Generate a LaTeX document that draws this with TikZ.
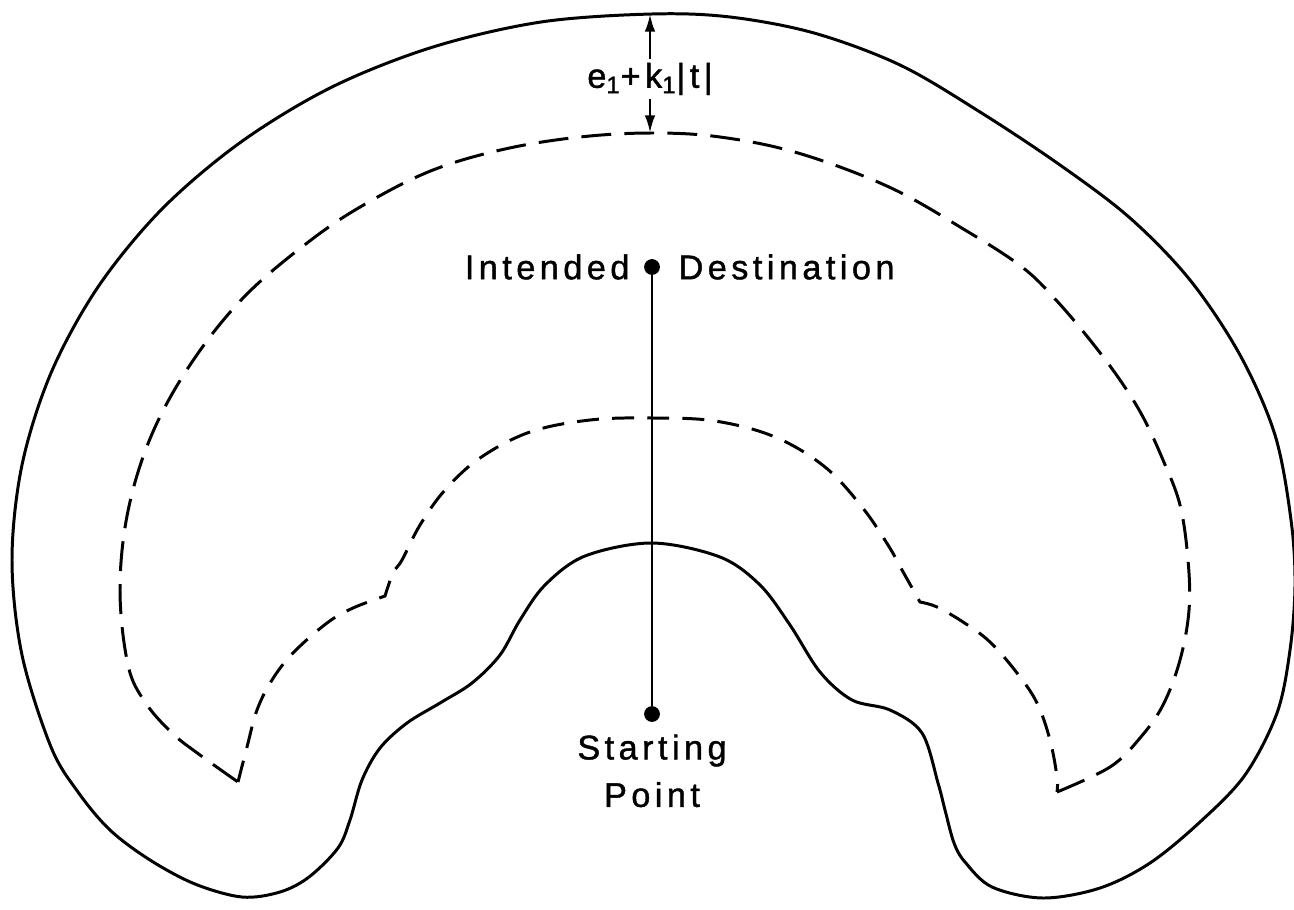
\documentclass[tikz,border=0pt]{standalone}
\usepackage{fontspec}
\setmainfont{Liberation Sans}[LetterSpace=13, FakeBold=1.2]
\usetikzlibrary{arrows.meta,positioning}

\begin{document}
\begin{tikzpicture}[
  x=0.02cm, y=-0.02cm,
  bound/.style={line width=1.7pt, line join=round},
  hull/.style={line width=1.7pt, dash pattern=on 17pt off 7.5pt},
  innerhull/.style={line width=1.7pt, dash pattern=on 12.5pt off 7.5pt, line join=miter},
  pointdot/.style={circle, fill, inner sep=0pt, minimum size=9pt},
  lbl/.style={font=\fontsize{19.5}{27}\selectfont, inner sep=0pt, align=center},
  line/.style={line width=1.5pt},
  dim/.style={-{Latex[length=10pt,width=6pt]}, line width=1.5pt}
]
\useasboundingbox (0,0) rectangle (1294,909);

\draw[bound] plot[smooth cycle, tension=0.55] coordinates {
  (652,14) (730,17) (814,33) (900,65) (980,112) (1060,165) (1130,218)
  (1190,280) (1240,355) (1275,435) (1291,520) (1295,585) (1290,650)
  (1277,713) (1245,775) (1200,822) (1150,863) (1100,888) (1043,898)
  (992,887) (965,862) (954,843) (945,810) (938,783) (922,733) (890,710)
  (852,700) (820,672) (790,625) (760,585) (720,557) (652,543) (585,556)
  (545,585) (520,620) (500,655) (472,683) (440,703) (407,723) (380,748)
  (362,780) (350,820) (338,848) (309,877) (280,892) (242,897) (195,884)
  (150,860) (110,830) (78,792) (51,747) (22,655) (12,560) (22,465)
  (51,373) (98,287) (162,209) (241,142) (332,87) (433,47) (541,22)};

\draw[innerhull] plot[smooth, tension=0.6] coordinates {
  (238,782) (247,747) (257,710) (272,680) (293,653) (327,623) (353,608) (385,596)}
  -- plot[smooth, tension=0.6] coordinates {
  (385,596) (393,573) (402,560) (420,525) (445,490) (480,458) (530,432)
  (590,420) (652,418) (715,421) (775,437) (825,467) (862,507) (888,545)
  (902,570) (920,602)}
  -- plot[smooth, tension=0.6] coordinates {
  (920,602) (937,607) (963,622) (990,642) (1017,673) (1037,703) (1050,740)
  (1057,777) (1057,792)};

\draw[hull] plot[smooth, tension=0.6] coordinates {
  (1057,792) (1110,767) (1140,738) (1163,705) (1180,660) (1189,610)
  (1188,560) (1180,505) (1163,460) (1143,417) (1120,380) (1090,340)
  (1056,300) (1022,267) (965,230) (889,187) (798,153) (720,137) (652,133)
  (580,137) (505,149) (433,170) (367,203) (311,240) (245,296) (192,362)
  (152,434) (128,511) (120,590) (128,665) (145,702) (172,733) (200,755)
  (238,782)};

\node[pointdot] (dest) at (652,267) {};
\node[pointdot] (start) at (652,714) {};
\node[lbl, left=0.28cm of dest] (intended) {Intended};
\node[lbl, right=0.36cm of dest] (destination) {Destination};
\node[lbl, below=0.24cm of start] (starting) {Starting\\Point};
\draw[line] (dest) -- (start);

\coordinate (outtop) at (650,14);
\coordinate (dashtop) at (650,133);
\node[lbl, inner sep=2pt] (gap) at (650,79) {e\textsubscript{1}+k\textsubscript{1}|t|};
\draw[dim] (gap.north) -- (outtop);
\draw[dim] (gap.south) -- (dashtop);
\end{tikzpicture}
\end{document}
